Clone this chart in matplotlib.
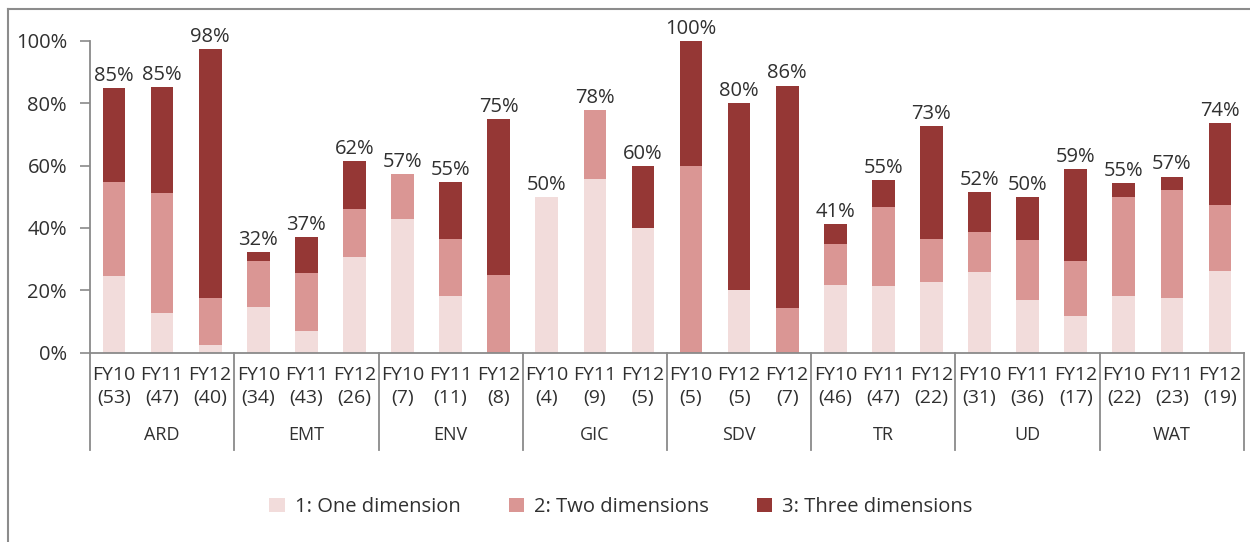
import numpy as np
import matplotlib
matplotlib.use("Agg")
import matplotlib.pyplot as plt
from matplotlib.lines import Line2D
from matplotlib.patches import Patch

plt.rcParams["font.family"] = ["Open Sans", "DejaVu Sans"]

# Sectors and the three fiscal-year cohorts inside each
sectors = ["ARD", "EMT", "ENV", "GIC", "SDV", "TR", "UD", "WAT"]
years = [
    ["FY10", "FY11", "FY12"],
    ["FY10", "FY11", "FY12"],
    ["FY10", "FY11", "FY12"],
    ["FY10", "FY11", "FY12"],
    ["FY10", "FY12", "FY12"],
    ["FY10", "FY11", "FY12"],
    ["FY10", "FY11", "FY12"],
    ["FY10", "FY11", "FY12"],
]
counts = [
    [53, 47, 40], [34, 43, 26], [7, 11, 8], [4, 9, 5],
    [5, 5, 7], [46, 47, 22], [31, 36, 17], [22, 23, 19],
]

# Share of projects (%) by number of dimensions
one_dim = [24.5, 12.8, 2.5, 14.7, 7.0, 30.8, 42.9, 18.2, 0.0, 50.0, 55.6, 40.0,
           0.0, 20.0, 0.0, 21.7, 21.3, 22.7, 25.8, 16.7, 11.8, 18.2, 17.4, 26.3]
two_dim = [30.2, 38.3, 15.0, 14.7, 18.6, 15.4, 14.3, 18.2, 25.0, 0.0, 22.2, 0.0,
           60.0, 0.0, 14.3, 13.0, 25.5, 13.6, 12.9, 19.4, 17.6, 31.8, 34.8, 21.1]
three_dim = [30.2, 34.0, 80.0, 2.9, 11.6, 15.4, 0.0, 18.2, 50.0, 0.0, 0.0, 20.0,
             40.0, 60.0, 71.4, 6.5, 8.5, 36.4, 12.9, 13.9, 29.4, 4.5, 4.3, 26.3]

series_names = ["1: One dimension", "2: Two dimensions", "3: Three dimensions"]
colors = ["#F2DCDB", "#DA9694", "#953735"]
text_color = "#303030"
axis_color = "#8A8A8A"

W, H = 1250, 542
fig = plt.figure(figsize=(W / 100, H / 100), dpi=100)
ax = fig.add_axes([90 / W, 1 - 352.5 / H, (1244 - 90) / W, (352.5 - 41) / H])

one = np.array(one_dim)
two = np.array(two_dim)
three = np.array(three_dim)
x = np.arange(len(one))
bw = 0.47

ax.bar(x, one, bw, color=colors[0], label=series_names[0])
ax.bar(x, two, bw, bottom=one, color=colors[1], label=series_names[1])
ax.bar(x, three, bw, bottom=one + two, color=colors[2], label=series_names[2])

totals = one + two + three
for xi, t in zip(x, totals):
    ax.annotate(f"{int(np.floor(t + 0.5 + 1e-6))}%", (xi, t), xytext=(0, 1.5),
                textcoords="offset points", ha="center", va="bottom",
                fontsize=14.5, color=text_color, annotation_clip=False)

ax.set_xlim(-0.5, len(x) - 0.5)
ax.set_ylim(0, 100)
ax.set_yticks(np.arange(0, 101, 20))
ax.set_yticklabels([f"{v}%" for v in range(0, 101, 20)])
ax.tick_params(axis="y", length=7.5, width=1.2, color=axis_color, pad=9,
               labelsize=14.5, labelcolor=text_color)
ax.set_xticks([])
for s in ["top", "right"]:
    ax.spines[s].set_visible(False)
for s in ["left", "bottom"]:
    ax.spines[s].set_color(axis_color)
    ax.spines[s].set_linewidth(1.3)

# Two-level category axis: year / count, then sector name
xt = ax.get_xaxis_transform()
for g, (sec, yrs, ns) in enumerate(zip(sectors, years, counts)):
    for k in range(3):
        xi = g * 3 + k
        ax.text(xi, -0.072, yrs[k], transform=xt, ha="center", va="center",
                fontsize=14, color=text_color)
        ax.text(xi, -0.146, f"({ns[k]})", transform=xt, ha="center", va="center",
                fontsize=14, color=text_color)
    ax.text(g * 3 + 1, -0.265, sec, transform=xt, ha="center", va="center",
            fontsize=13, color=text_color)
for b in range(len(sectors) + 1):
    ax.add_line(Line2D([b * 3 - 0.5] * 2, [0, -0.313], transform=xt,
                       color=axis_color, lw=1.3, clip_on=False))

handles = [Patch(facecolor=c, edgecolor="none") for c in colors]
fig.legend(handles, series_names, loc="center", bbox_to_anchor=(621 / W, 1 - 507 / H),
           ncol=3, frameon=False, fontsize=14.5, handlelength=0.75, handleheight=0.75,
           handletextpad=0.5, columnspacing=2.4, labelcolor=text_color)

# Outer chart frame (left and top edges)
fig.add_artist(Line2D([8 / W, 8 / W], [0, 1 - 9 / H], transform=fig.transFigure,
                      color="#8C8C8C", lw=1.5))
fig.add_artist(Line2D([8 / W, 1], [1 - 9 / H, 1 - 9 / H], transform=fig.transFigure,
                      color="#8C8C8C", lw=1.5))

fig.savefig("out.png", dpi=100, facecolor="white")
